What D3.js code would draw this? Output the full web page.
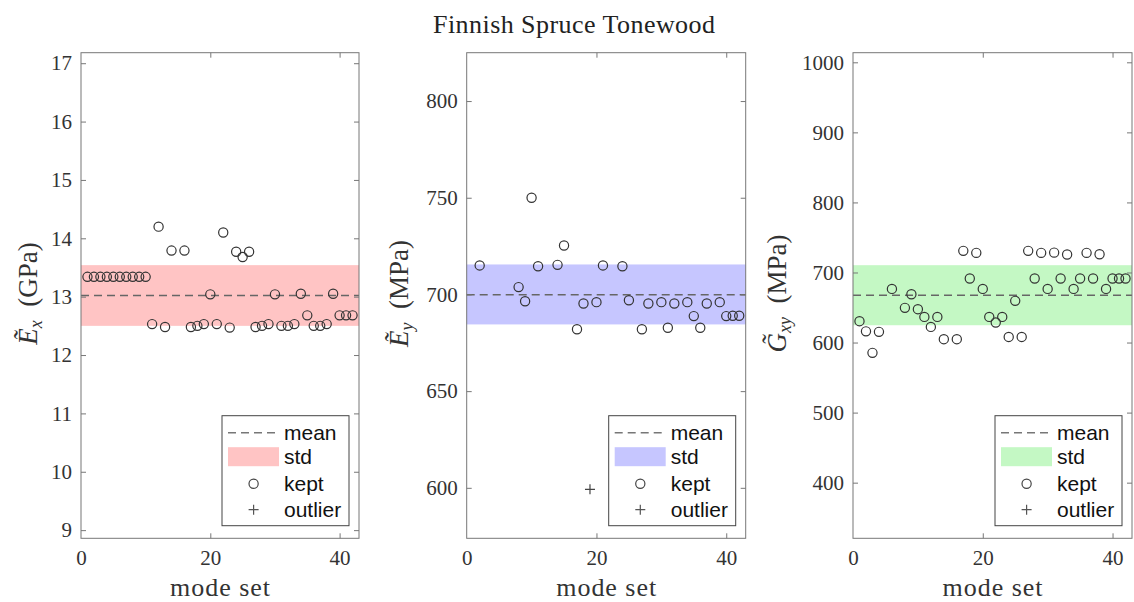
<!DOCTYPE html>
<html><head><meta charset="utf-8">
<script src="https://cdn.jsdelivr.net/npm/d3@7"></script>
<style>
html,body{margin:0;padding:0;background:#fff;}
svg{display:block;}
</style>
</head><body>
<svg id="chart" width="1134" height="602"></svg>
<script>
// ---------------- DATA ----------------
const title = "Finnish Spruce Tonewood";
const xTicks = [0, 20, 40];
const xLabel = "mode set";
const legendLabels = ["mean", "std", "kept", "outlier"];

// Panel 1: E_x (GPa)
const exX = [1,2,3,4,5,6,7,8,9,10,11,12,13,14,16,17,18,19,20,21,22,23,24,25,26,27,28,29,30,31,32,33,34,35,36,37,38,39,40,41,42];
const exV = [13.34,13.34,13.34,13.34,13.34,13.34,13.34,13.34,13.34,13.34,12.53,14.2,12.48,13.79,13.79,12.48,12.5,12.53,13.04,12.53,14.1,12.47,13.77,13.68,13.77,12.48,12.5,12.53,13.04,12.5,12.5,12.53,13.05,12.68,12.5,12.5,12.53,13.05,12.68,12.68,12.68];
const exOutX = [];
const exOutV = [];
const exMean = 13.02, exLo = 12.50, exHi = 13.54;
const exTicks = [9,10,11,12,13,14,15,16,17];

// Panel 2: E_y (MPa)
const eyX = [2,8,9,10,11,14,15,17,18,20,21,24,25,27,28,30,31,32,34,35,36,37,39,40,41,42];
const eyV = [715,703.8,696.5,750,714.6,715.3,725.3,682,695.3,696,715,714.6,697,682,695.3,696,682.8,695.3,696,688.8,682.8,695.3,696,688.8,689,689];
const eyOutX = [19];
const eyOutV = [599.2];
const eyMean = 699.8, eyLo = 684.5, eyHi = 715.5;
const eyTicks = [600,650,700,750,800];

// Panel 3: G_xy (MPa)
const gX = [1,2,3,4,6,8,9,10,11,12,13,14,16,17,18,19,20,21,22,23,24,25,26,27,28,29,30,31,32,33,34,35,36,37,38,39,40,41,42];
const gV = [630.5,616,585.3,615.3,676.6,649.5,669,647.6,636.6,622.3,636.6,604.8,604.8,730.9,691.4,728,676.6,636.6,628.6,636.6,608,659.5,608,730.9,691.4,728,676.6,728.4,691.4,725.7,676.6,691.4,728,691.4,726,676.6,691.4,691.4,691.4];
const gOutX = [];
const gOutV = [];
const gMean = 667.6, gLo = 624.7, gHi = 710.4;
const gTicks = [400,500,600,700,800,900,1000];

// ---------------- LAYOUT ----------------
const svg = d3.select("#chart");
const TOP = 52.7, BOTTOM = 538.3;
const serif = "'Liberation Serif', 'Times New Roman', serif";
const sans = "'Liberation Sans', Arial, Helvetica, sans-serif";

const panels = [
  {left:81, right:359, yDom:[8.86,17.18], ticks:exTicks, xs:exX, vs:exV, ox:exOutX, ov:exOutV,
   mean:exMean, lo:exLo, hi:exHi, fill:"rgb(255,196,196)", labX:37, sym:"E", sub:"x", unit:"(GPa)"},
  {left:466.7, right:745.7, yDom:[573.9,825], ticks:eyTicks, xs:eyX, vs:eyV, ox:eyOutX, ov:eyOutV,
   mean:eyMean, lo:eyLo, hi:eyHi, fill:"rgb(198,198,255)", labX:408, sym:"E", sub:"y", unit:"(MPa)"},
  {left:853, right:1132, yDom:[320.6,1013.7], ticks:gTicks, xs:gX, vs:gV, ox:gOutX, ov:gOutV,
   mean:gMean, lo:gLo, hi:gHi, fill:"rgb(196,248,196)", labX:786, sym:"G", sub:"xy", unit:"(MPa)"}
];

// title
svg.append("text")
  .attr("x", 574).attr("y", 33)
  .attr("text-anchor", "middle")
  .attr("font-family", serif).attr("font-size", 26)
  .attr("fill", "#222")
  .attr("textLength", 282).attr("lengthAdjust", "spacing")
  .text(title);

panels.forEach(p => {
  const g = svg.append("g");
  const x = d3.scaleLinear().domain([0, 43]).range([p.left, p.right]);
  const y = d3.scaleLinear().domain(p.yDom).range([BOTTOM, TOP]);

  // std band
  g.append("rect")
    .attr("x", x(0)).attr("width", x(43) - x(0))
    .attr("y", y(p.hi)).attr("height", y(p.lo) - y(p.hi))
    .attr("fill", p.fill);

  // mean line
  g.append("line")
    .attr("x1", x(0)).attr("x2", x(43))
    .attr("y1", y(p.mean)).attr("y2", y(p.mean))
    .attr("stroke", "#666").attr("stroke-width", 1.4)
    .attr("stroke-dasharray", "8,5");

  // kept points
  g.selectAll("circle.kept").data(p.xs.map((d,i) => [d, p.vs[i]])).join("circle")
    .attr("class", "kept")
    .attr("cx", d => x(d[0])).attr("cy", d => y(d[1]))
    .attr("r", 4.6)
    .attr("fill", "none").attr("stroke", "#333").attr("stroke-width", 1.2);

  // outliers
  const outs = p.ox.map((d,i) => [d, p.ov[i]]);
  outs.forEach(d => {
    const cx = x(d[0]), cy = y(d[1]);
    g.append("path")
      .attr("d", `M${cx-5},${cy}H${cx+5}M${cx},${cy-5}V${cy+5}`)
      .attr("stroke", "#444").attr("stroke-width", 1.2);
  });

  // axes
  const axColor = "#777";
  const axL = g.append("g").attr("transform", `translate(${p.left},0)`)
    .call(d3.axisLeft(y).tickValues(p.ticks).tickSize(-5).tickPadding(9).tickFormat(d3.format("d")));
  const axR = g.append("g").attr("transform", `translate(${p.right},0)`)
    .call(d3.axisRight(y).tickValues(p.ticks).tickSize(-5).tickFormat(""));
  const axB = g.append("g").attr("transform", `translate(0,${BOTTOM})`)
    .call(d3.axisBottom(x).tickValues(xTicks).tickSize(-5).tickPadding(12).tickFormat(d3.format("d")));
  const axT = g.append("g").attr("transform", `translate(0,${TOP})`)
    .call(d3.axisTop(x).tickValues(xTicks).tickSize(-5).tickFormat(""));
  [axL, axR, axB, axT].forEach(a => {
    a.select(".domain").remove();
    a.selectAll(".tick line").attr("stroke", axColor);
    a.selectAll("text").attr("font-family", serif).attr("font-size", 21).attr("fill", "#333");
  });
  axB.selectAll(".tick").filter(d => d === 0).select("line").attr("display", "none");
  axT.selectAll(".tick").filter(d => d === 0).select("line").attr("display", "none");

  // box
  g.append("rect")
    .attr("x", p.left).attr("y", TOP)
    .attr("width", p.right - p.left).attr("height", BOTTOM - TOP)
    .attr("fill", "none").attr("stroke", axColor).attr("stroke-width", 1);

  // x label
  g.append("text")
    .attr("x", (p.left + p.right) / 2).attr("y", 596)
    .attr("text-anchor", "middle")
    .attr("font-family", serif).attr("font-size", 26).attr("fill", "#333")
    .attr("textLength", 100).attr("lengthAdjust", "spacing")
    .text(xLabel);

  // y label
  const yl = g.append("text")
    .attr("transform", `translate(${p.labX},${(TOP + BOTTOM) / 2 - 2}) rotate(-90)`)
    .attr("text-anchor", "middle")
    .attr("font-family", serif).attr("font-size", 27).attr("fill", "#333");
  yl.append("tspan").attr("font-style", "italic").text(p.sym === "E" ? "\u1EBC" : "G\u0303");
  yl.append("tspan").attr("font-style", "italic").attr("font-size", 18).attr("dy", 5).text(p.sub);
  yl.append("tspan").attr("dy", -5).text("\u2002" + p.unit);

  // legend
  const lw = 127, lh = 110;
  const lx = p.right - 10 - lw, ly = BOTTOM - 12.6 - lh;
  const L = g.append("g").attr("transform", `translate(${lx},${ly})`);
  L.append("rect").attr("width", lw).attr("height", lh)
    .attr("fill", "#fff").attr("stroke", "#444").attr("stroke-width", 1);
  const rows = [17, 41, 68, 94];
  L.append("line").attr("x1", 6).attr("x2", 54).attr("y1", rows[0]).attr("y2", rows[0])
    .attr("stroke", "#777").attr("stroke-width", 1.4).attr("stroke-dasharray", "8,5");
  L.append("rect").attr("x", 6).attr("y", rows[1] - 9.5).attr("width", 51).attr("height", 19)
    .attr("fill", p.fill);
  L.append("circle").attr("cx", 31.6).attr("cy", rows[2]).attr("r", 4.6)
    .attr("fill", "none").attr("stroke", "#444").attr("stroke-width", 1.2);
  L.append("path").attr("d", `M${31.6-5},${rows[3]}H${31.6+5}M31.6,${rows[3]-5}V${rows[3]+5}`)
    .attr("stroke", "#555").attr("stroke-width", 1.2);
  legendLabels.forEach((t, i) => {
    L.append("text").attr("x", 62).attr("y", rows[i]).attr("dy", "0.35em")
      .attr("font-family", sans).attr("font-size", 21).attr("fill", "#111")
      .text(t);
  });
});
</script>
</body></html>
